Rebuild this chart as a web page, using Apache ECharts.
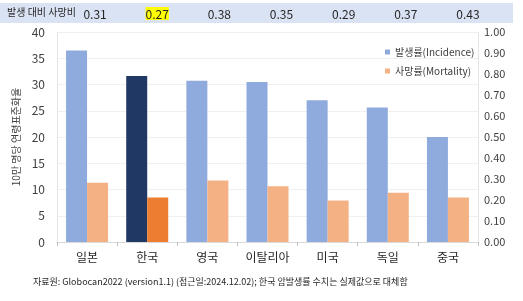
<!DOCTYPE html>
<html>
<head>
<meta charset="utf-8">
<script src="https://cdn.jsdelivr.net/npm/echarts@6/dist/echarts.min.js"></script>
<style>
  html, body { margin: 0; padding: 0; background: #fff; }
  #chart { width: 523px; height: 301px; }
</style>
</head>
<body>
<div id="chart"></div>
<script>
// 국가별 발생률/사망률
const countries = ['일본', '한국', '영국', '이탈리아', '미국', '독일', '중국']
const incidence = [36.5, 31.6, 30.7, 30.5, 27.0, 25.6, 20.0]
const mortality = [11.3, 8.5, 11.7, 10.6, 7.9, 9.4, 8.5]
const ratios = ['0.31', '0.27', '0.38', '0.35', '0.29', '0.37', '0.43']
const highlight = 1 // 한국

const font = "'Noto Sans CJK KR', 'Noto Sans', sans-serif"
const myChart = echarts.init(document.getElementById('chart'))

const option = {
  textStyle: { fontFamily: font },
  graphic: [
    {
      type: 'rect',
      shape: { x: 0, y: 3, width: 513, height: 20 },
      style: { fill: '#dae3f3' },
      silent: true,
      z: -1
    },
    {
      type: 'text',
      left: 7,
      top: 7,
      style: { text: '발생 대비 사망비', fontSize: 10, fill: '#262626', fontFamily: font }
    },
    {
      type: 'text',
      left: 33,
      top: 277,
      style: {
        text: '자료원: Globocan2022 (version1.1) (접근일:2024.12.02); 한국 암발생률 수치는 실제값으로 대체함',
        fontSize: 9, fill: '#262626', fontFamily: font
      }
    }
  ],
  legend: {
    orient: 'vertical',
    left: 380,
    top: 42,
    itemWidth: 5,
    itemHeight: 5,
    itemGap: 9,
    icon: 'rect',
    textStyle: { fontSize: 10, color: '#404040', fontFamily: font },
    data: ['발생률(Incidence)', '사망률(Mortality)']
  },
  grid: [
    { left: 57, right: 45, top: 32, bottom: 59 },
    { left: 64, right: 24, top: 26, height: 1 }
  ],
  xAxis: [
    {
      type: 'category',
      gridIndex: 0,
      data: countries,
      axisLine: { lineStyle: { color: '#d9d9d9' } },
      axisTick: { show: true, lineStyle: { color: '#bfbfbf' }, length: 4 },
      axisLabel: { color: '#262626', fontSize: 12, margin: 9 }
    },
    {
      type: 'category',
      gridIndex: 1,
      position: 'top',
      data: ratios,
      axisLine: { show: false },
      axisTick: { show: false },
      axisLabel: {
        margin: 6,
        fontSize: 12,
        color: '#262626',
        formatter: (v, i) => (i === highlight ? '{h|' + v + '}' : v),
        rich: {
          h: { backgroundColor: '#ffff00', color: '#262626', fontSize: 12, padding: [1, 0, 0, 0] }
        }
      }
    }
  ],
  yAxis: [
    {
      type: 'value',
      gridIndex: 0,
      min: 0,
      max: 40,
      interval: 5,
      name: '10만 명당 연령표준화율',
      nameLocation: 'middle',
      nameRotate: 90,
      nameGap: 30,
      nameTextStyle: { fontSize: 10, color: '#404040' },
      axisLine: { show: true, lineStyle: { color: '#e6e6e6' } },
      axisTick: { show: false },
      axisLabel: { color: '#404040', fontSize: 12, margin: 12 },
      splitLine: { lineStyle: { color: '#f0f0f0' } }
    },
    {
      type: 'value',
      gridIndex: 0,
      position: 'right',
      min: 0,
      max: 1,
      interval: 0.1,
      axisLine: { show: true, lineStyle: { color: '#e6e6e6' } },
      axisTick: { show: false },
      axisLabel: { color: '#404040', fontSize: 11, margin: 6, formatter: v => v.toFixed(2) },
      splitLine: { show: false }
    },
    {
      type: 'value',
      gridIndex: 1,
      show: false
    }
  ],
  series: [
    {
      name: '발생률(Incidence)',
      type: 'bar',
      xAxisIndex: 0,
      yAxisIndex: 0,
      barWidth: 21,
      barGap: 0,
      itemStyle: { color: '#8faadc' },
      data: incidence.map((v, i) => (i === highlight ? { value: v, itemStyle: { color: '#203864' } } : v))
    },
    {
      name: '사망률(Mortality)',
      type: 'bar',
      xAxisIndex: 0,
      yAxisIndex: 0,
      barWidth: 21,
      barGap: 0,
      itemStyle: { color: '#f4b183' },
      data: mortality.map((v, i) => (i === highlight ? { value: v, itemStyle: { color: '#ed7d31' } } : v))
    }
  ]
}
myChart.setOption(option)
</script>
</body>
</html>
